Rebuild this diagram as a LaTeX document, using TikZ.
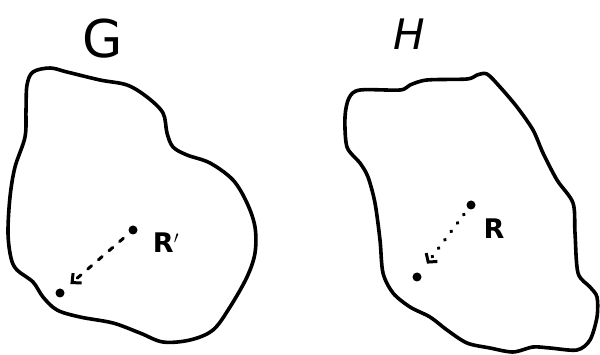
\documentclass[tikz,border=0pt]{standalone}
\usepackage{fontspec}
\setmainfont{DejaVu Sans}
\usetikzlibrary{arrows.meta}
\begin{document}
\begin{tikzpicture}[x=1pt,y=-1pt,
  blob/.style={line width=3.6pt, line join=round},
  pt/.style={circle, fill=black, inner sep=0pt, minimum size=9pt},
  lbl/.style={inner sep=0pt, font=\fontsize{27}{27}\selectfont\bfseries},
  title/.style={inner sep=0pt, font=\fontsize{52}{52}\selectfont},
  dasharrow/.style={line width=3pt, line cap=round, dash pattern=on 5pt off 9pt, -{Straight Barb[length=7pt,width=13pt,line width=3pt]}},
  dotarrow/.style={line width=3.6pt, line cap=round, dash pattern=on 0.5pt off 10pt, -{Straight Barb[length=6pt,width=14pt,line width=3pt]}}
]
\useasboundingbox (0,0) rectangle (600,355);
% blob G
\draw[blob] plot[smooth cycle, tension=0.55] coordinates {
 (33,72) (50,68) (67,72) (100,80) (127,85) (147,97) (163,113) (167,133)
 (173,147) (187,155) (210,163) (233,180) (247,203) (255,227) (255,253)
 (247,277) (230,307) (213,330) (190,340) (163,342) (140,333) (113,323)
 (80,317) (57,310) (43,297) (33,282) (17,270) (11,258) (8,233) (10,197)
 (15,167) (25,137) (26,110) (27,85)};
% blob H
\draw[blob] plot[smooth cycle, tension=0.5] coordinates {
 (360,90) (400,90) (410,85) (427,80) (467,79) (477,75) (487,74) (500,87)
 (517,107) (533,130) (543,153) (557,180) (573,203) (575,233) (578,273)
 (590,287) (597,297) (597,317) (590,340) (577,350) (550,348) (533,347)
 (513,352) (490,348) (467,343) (447,330) (430,317) (410,307) (393,293)
 (383,273) (380,240) (375,203) (368,177) (360,163) (347,147) (345,117)
 (349,98)};
% titles
\node[title] (G) at (103,39) {G};
\node[title, font=\fontsize{42}{42}\selectfont\itshape] (H) at (409,34) {H};
% points in G
\node[pt] (g1) at (133,230) {};
\node[pt] (g2) at (60,293) {};
\node[lbl] (Rp) at (166,243) {R$'$};
\draw[dasharrow, shorten <=8pt, shorten >=9pt] (g1) -- (g2);
% points in H
\node[pt] (h1) at (471,205) {};
\node[pt] (h2) at (417,277) {};
\node[lbl] (R) at (494,229) {R};
\draw[dotarrow, shorten <=7pt, shorten >=12pt] (h1) -- (h2);
\end{tikzpicture}
\end{document}
